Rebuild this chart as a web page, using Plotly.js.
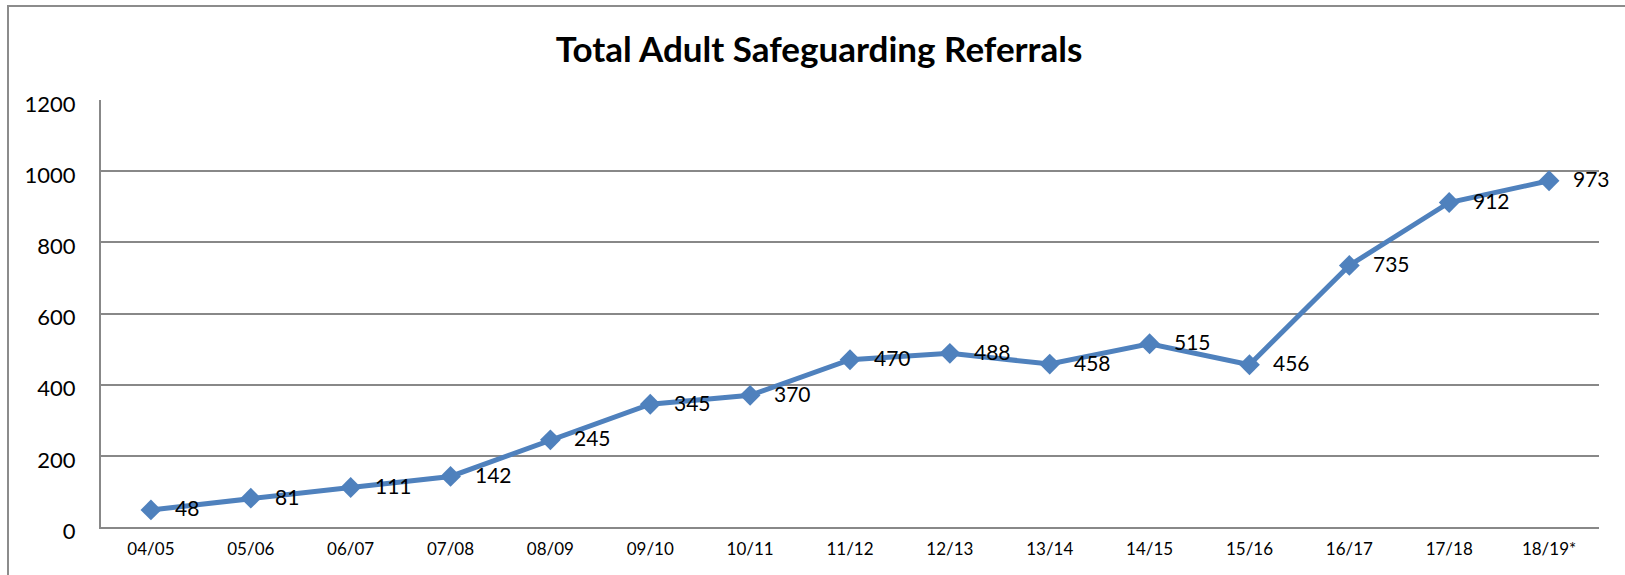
<!DOCTYPE html>
<html>
<head>
<meta charset="utf-8">
<script src="https://cdn.plot.ly/plotly-3.0.1.min.js"></script>
<style>
  html, body { margin: 0; padding: 0; background: #fff; overflow: hidden; }
  #chart { width: 1625px; height: 575px; }
  #frame { position: absolute; left: 7px; top: 5px; width: 1700px; height: 700px;
           border: 2px solid #8c8c8c; pointer-events: none; box-sizing: border-box; }
</style>
</head>
<body>
<div id="chart"></div>
<div id="frame"></div>
<script>
const categories = ["04/05","05/06","06/07","07/08","08/09","09/10","10/11","11/12","12/13","13/14","14/15","15/16","16/17","17/18","18/19*"];
const referrals = [48, 81, 111, 142, 245, 345, 370, 470, 488, 458, 515, 456, 735, 912, 973];
const yTicks = [0, 200, 400, 600, 800, 1000, 1200];
const chartTitle = "Total Adult Safeguarding Referrals";

const FONT = "Lato, 'Open Sans', sans-serif";

const trace = {
  type: "scatter",
  mode: "lines+markers",
  x: categories,
  y: referrals,
  line: { color: "#4F81BD", width: 5 },
  marker: { symbol: "diamond", size: 16, color: "#4F81BD" },
  hoverinfo: "x+y"
};

const annotations = categories.map((c, i) => ({
  x: c, y: referrals[i], xref: "x", yref: "y",
  text: String(referrals[i]),
  showarrow: false,
  xanchor: "left", yanchor: "middle",
  xshift: 22, yshift: 2,
  font: { family: FONT, size: 21, color: "#000" }
}));

const layout = {
  width: 1625, height: 575,
  margin: { l: 101, r: 26, t: 100, b: 48, pad: 0 },
  paper_bgcolor: "#fff", plot_bgcolor: "#fff",
  showlegend: false,
  font: { family: FONT, color: "#000" },
  title: {
    text: "<b>" + chartTitle + "</b>",
    font: { family: FONT, size: 35, color: "#000" },
    xref: "container", x: 0.504, xanchor: "center",
    yref: "container", y: 0.913, yanchor: "middle"
  },
  xaxis: {
    type: "category",
    range: [-0.5, categories.length - 0.5],
    showgrid: false,
    showline: true, linecolor: "#888888", linewidth: 2,
    ticks: "", ticklabelstandoff: 6,
    tickfont: { family: FONT, size: 17, color: "#000" },
    zeroline: false, fixedrange: true
  },
  yaxis: {
    range: [0, 1200],
    tickvals: yTicks,
    ticktext: yTicks.map(String),
    showgrid: true, gridcolor: "#888888", gridwidth: 2,
    showline: true, linecolor: "#888888", linewidth: 2,
    ticks: "", ticklabelstandoff: 19, ticklabelshift: 4,
    tickfont: { family: FONT, size: 22, color: "#000" },
    zeroline: false, fixedrange: true
  },
  annotations: annotations
};

Plotly.newPlot("chart", [trace], layout, { displayModeBar: false, staticPlot: true });
</script>
</body>
</html>
